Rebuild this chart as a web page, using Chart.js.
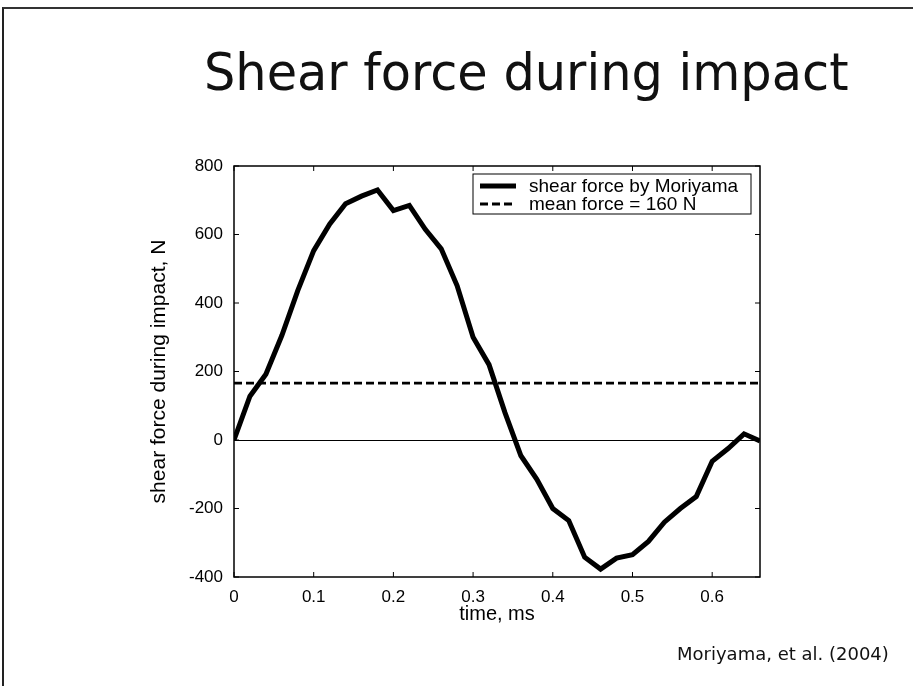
<!DOCTYPE html>
<html>
<head>
<meta charset="utf-8">
<script src="https://cdn.jsdelivr.net/npm/chart.js@4"></script>
<style>
  html, body { margin: 0; padding: 0; background: #fff; }
  #slide { position: relative; width: 913px; height: 686px; overflow: hidden; }
  #frame { position: absolute; left: 2px; top: 7px; width: 920px; height: 700px;
           border-left: 2px solid #222; border-top: 2px solid #333; }
  #title { position: absolute; left: 204px; top: 46px; white-space: nowrap;
           transform: scaleX(0.95); transform-origin: left top;
           font-family: "DejaVu Sans", Verdana, sans-serif; font-size: 52px; line-height: 1; color: #111; }
  #cite { position: absolute; left: 677px; top: 645px; white-space: nowrap;
          font-family: "DejaVu Sans", Verdana, sans-serif; font-size: 18px; line-height: 1; color: #111; }
  canvas { position: absolute; left: 0; top: 0; }
</style>
</head>
<body>
<div id="slide">
  <div id="frame"></div>
  <div id="title">Shear force during impact</div>
  <canvas id="shearChart" width="913" height="686"></canvas>
  <div id="cite">Moriyama, et al. (2004)</div>
</div>
<script>
// time samples, ms
const times = [0, 0.02, 0.04, 0.06, 0.08, 0.10, 0.12, 0.14, 0.16, 0.18, 0.20, 0.22,
               0.24, 0.26, 0.28, 0.30, 0.32, 0.34, 0.36, 0.38, 0.40, 0.42, 0.44,
               0.46, 0.48, 0.50, 0.52, 0.54, 0.56, 0.58, 0.60, 0.62, 0.64, 0.66];
// shear force, N
const shearForce = [0, 128, 192, 305, 436, 553, 630, 690, 712, 730, 670, 685,
                    615, 558, 450, 300, 220, 80, -46, -115, -200, -235, -342,
                    -377, -345, -335, -296, -240, -200, -165, -62, -25, 18, -3];
const meanTimes = [0, 0.66];
const meanForce = [166, 166];
const seriesLabels = ['shear force by Moriyama', 'mean force = 160 N'];
const xTickValues = [0, 0.1, 0.2, 0.3, 0.4, 0.5, 0.6];

const ctx = document.getElementById('shearChart').getContext('2d');
const sans = '"Liberation Sans", Arial, sans-serif';
const tickFont = { family: sans, size: 17 };

// box round the plot with inward tick marks on all four sides, plus the legend inside it
const frameTicks = {
  id: 'frameTicks',
  afterDraw(chart) {
    const { ctx, chartArea: a, scales } = chart;
    ctx.save();
    ctx.strokeStyle = '#000';
    ctx.lineWidth = 1.5;
    ctx.strokeRect(a.left, a.top, a.right - a.left, a.bottom - a.top);
    ctx.lineWidth = 1;
    const len = 5;
    ctx.beginPath();
    scales.x.ticks.forEach(t => {
      const px = scales.x.getPixelForValue(t.value);
      ctx.moveTo(px, a.bottom); ctx.lineTo(px, a.bottom - len);
      ctx.moveTo(px, a.top); ctx.lineTo(px, a.top + len);
    });
    scales.y.ticks.forEach(t => {
      const py = scales.y.getPixelForValue(t.value);
      ctx.moveTo(a.left, py); ctx.lineTo(a.left + len, py);
      ctx.moveTo(a.right, py); ctx.lineTo(a.right - len, py);
    });
    ctx.stroke();

    const w = 278, h = 40;
    const x0 = a.right - 9 - w, y0 = a.top + 8;
    ctx.fillStyle = '#fff';
    ctx.fillRect(x0, y0, w, h);
    ctx.lineWidth = 1;
    ctx.strokeRect(x0, y0, w, h);
    ctx.font = '19px ' + sans;
    ctx.textBaseline = 'middle';
    chart.data.datasets.forEach((ds, i) => {
      const ly = y0 + 12 + i * 18;
      ctx.beginPath();
      ctx.setLineDash(ds.borderDash || []);
      ctx.lineWidth = ds.borderWidth;
      ctx.strokeStyle = ds.borderColor;
      ctx.moveTo(x0 + 7, ly); ctx.lineTo(x0 + 43, ly);
      ctx.stroke();
      ctx.setLineDash([]);
      ctx.fillStyle = '#000';
      ctx.fillText(ds.label, x0 + 56, ly + 1);
    });
    ctx.restore();
  }
};

const data = {
  datasets: [
    {
      label: seriesLabels[0],
      data: times.map((t, i) => ({ x: t, y: shearForce[i] })),
      borderColor: '#000',
      borderWidth: 5,
      pointRadius: 0,
      borderJoinStyle: 'miter',
      tension: 0,
    },
    {
      label: seriesLabels[1],
      data: meanTimes.map((t, i) => ({ x: t, y: meanForce[i] })),
      borderColor: '#000',
      borderWidth: 2.8,
      borderDash: [8, 4],
      pointRadius: 0,
    },
  ],
};

const config = {
  type: 'line',
  data: data,
  options: {
    responsive: false,
    animation: false,
    layout: { padding: { left: 147, top: 166, right: 153, bottom: 60 } },
    plugins: {
      legend: { display: false },
      tooltip: { enabled: false },
    },
    scales: {
      x: {
        type: 'linear',
        min: 0,
        max: 0.66,
        afterBuildTicks: (scale) => {
          scale.ticks = xTickValues.map(v => ({ value: v }));
        },
        afterFit: (scale) => { scale.height = 49; },
        grid: { display: false, drawTicks: false },
        border: { display: false },
        ticks: { color: '#000', font: tickFont, padding: 10, maxRotation: 0 },
        title: {
          display: true,
          text: 'time, ms',
          color: '#000',
          font: { family: sans, size: 20 },
          padding: { top: 0, bottom: 0 },
        },
      },
      y: {
        min: -400,
        max: 800,
        ticks: { stepSize: 200, color: '#000', font: tickFont, padding: 11 },
        afterFit: (scale) => { scale.width = 87; },
        grid: {
          drawTicks: false,
          lineWidth: 1,
          color: (c) => (c.tick && c.tick.value === 0 ? '#000' : 'rgba(0,0,0,0)'),
        },
        border: { display: false },
        title: {
          display: true,
          text: 'shear force during impact, N',
          color: '#000',
          font: { family: sans, size: 21 },
          padding: { top: 0, bottom: 0 },
        },
      },
    },
  },
  plugins: [frameTicks],
};

const shearChart = new Chart(ctx, config);
</script>
</body>
</html>
